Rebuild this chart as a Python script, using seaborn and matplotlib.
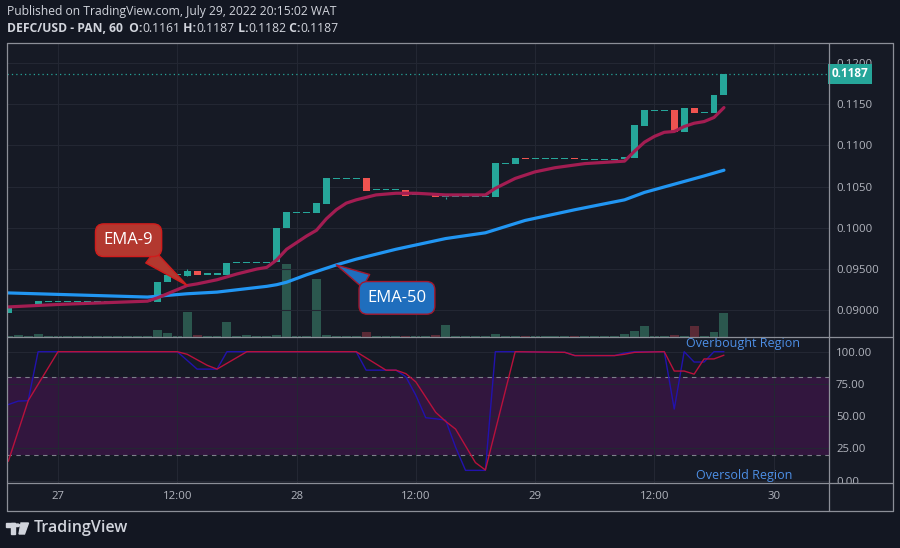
import numpy as np
import matplotlib
matplotlib.use("Agg")
import matplotlib.pyplot as plt
from matplotlib.lines import Line2D
from matplotlib.patches import Rectangle, Polygon, Circle
import seaborn as sns

# --- candles, one per hour (hour 0 = 27 Jul 00:00)
hours = list(range(-5, 68))
opens = [0.0897, 0.0905, 0.0905, 0.0905, 0.0911, 0.0911, 0.0911, 0.0911, 0.0911, 0.0911,
         0.0911, 0.0911, 0.0911, 0.0911, 0.0911, 0.0910, 0.0934, 0.0943, 0.0942, 0.0948,
         0.0944, 0.0944, 0.0943, 0.0958, 0.0958, 0.0958, 0.0958, 0.0958, 0.1000, 0.1019,
         0.1019, 0.1018, 0.1029, 0.1060, 0.1060, 0.1060, 0.1060, 0.1046, 0.1046, 0.1046,
         0.1046, 0.1040, 0.1040, 0.1040, 0.1037, 0.1038, 0.1038, 0.1038, 0.1038, 0.1038,
         0.1078, 0.1078, 0.1085, 0.1084, 0.1084, 0.1084, 0.1084, 0.1085, 0.1083, 0.1083,
         0.1083, 0.1083, 0.1083, 0.1085, 0.1124, 0.1143, 0.1143, 0.1143, 0.1116, 0.1145,
         0.1140, 0.1139, 0.1161]
closes = [0.0905, 0.0905, 0.0905, 0.0911, 0.0911, 0.0911, 0.0911, 0.0911, 0.0911, 0.0911,
          0.0911, 0.0911, 0.0911, 0.0911, 0.0911, 0.0934, 0.0943, 0.0943, 0.0948, 0.0943,
          0.0944, 0.0944, 0.0957, 0.0958, 0.0958, 0.0958, 0.0958, 0.1000, 0.1019, 0.1019,
          0.1019, 0.1030, 0.1061, 0.1060, 0.1060, 0.1060, 0.1045, 0.1046, 0.1046, 0.1046,
          0.1039, 0.1040, 0.1040, 0.1037, 0.1038, 0.1038, 0.1038, 0.1038, 0.1038, 0.1079,
          0.1078, 0.1085, 0.1084, 0.1084, 0.1084, 0.1084, 0.1084, 0.1083, 0.1083, 0.1083,
          0.1083, 0.1083, 0.1086, 0.1125, 0.1143, 0.1143, 0.1143, 0.1116, 0.1146, 0.1139,
          0.1140, 0.1161, 0.1187]
volume = [1, 2, 1, 3, 1, 1, 1, 1, 1, 1,
          1, 1, 1, 1, 1, 7, 4, 1, 25, 2,
          1, 1, 15, 1, 2, 1, 1, 2, 73, 1,
          1, 58, 2, 1, 1, 1, 5, 1, 1, 1,
          1, 1, 1, 2, 12, 1, 1, 1, 1, 3,
          1, 1, 1, 1, 1, 1, 1, 1, 1, 1,
          1, 1, 3, 6, 11, 1, 1, 2, 1, 11,
          1, 5, 24]
wick_hours = [13, 39]
wick_low = [0.0942, 0.1035]
wick_high = [0.0950, 0.1038]

# --- moving averages
ema9_hours = [-5, 0, 9, 10, 11, 12, 13, 14, 16, 18, 20, 21, 22, 23, 24, 25, 26, 27, 28, 29,
              30, 31, 32, 34, 36, 39, 43, 44, 45, 46, 48, 50, 53, 57, 58, 59, 60, 61, 62, 63,
              64, 65, 66, 67]
ema9_vals = [0.0904, 0.0907, 0.0911, 0.0915, 0.0920, 0.0925, 0.0930, 0.0932, 0.0937, 0.0944,
             0.0950, 0.0952, 0.0961, 0.0974, 0.0982, 0.0990, 0.0997, 0.1011, 0.1022, 0.1030,
             0.1034, 0.1037, 0.1040, 0.1042, 0.1042, 0.1040, 0.1040, 0.1048, 0.1054, 0.1060,
             0.1068, 0.1073, 0.1078, 0.1081, 0.1093, 0.1104, 0.1111, 0.1116, 0.1117, 0.1123,
             0.1127, 0.1129, 0.1134, 0.1146]
ema50_hours = [-5, 9, 10, 13, 16, 21, 22, 23, 25, 28, 30, 34, 39, 43, 47, 52, 57, 59, 62, 65, 67]
ema50_vals = [0.0921, 0.0916, 0.0917, 0.0920, 0.0922, 0.0929, 0.0931, 0.0934, 0.0943, 0.0955,
              0.0962, 0.0974, 0.0987, 0.0994, 0.1009, 0.1022, 0.1034, 0.1043, 0.1053, 0.1063,
              0.1070]

# --- stochastic %K / %D
k_hours = [-5, -4, -3, -2, 12, 14, 16, 17, 30, 31, 34, 35, 36, 37, 38, 39, 40, 41, 43, 44,
           46, 51, 52, 56, 57, 58, 61, 62, 63, 64, 65, 66, 67]
k_vals = [59, 61.7, 62, 100, 100, 86.5, 86.5, 100, 100, 85.7, 85.7, 80.5, 66.3, 48.8, 48, 47,
          26, 8, 8, 100, 100, 99.5, 97, 97, 99, 100, 100, 55.5, 100, 92, 92, 100, 100]
d_hours = [-5, -3, 0, 12, 13, 15, 16, 19, 30, 33, 34, 35, 36, 38, 39, 40, 42, 43, 46, 51,
           52, 56, 57, 58, 61, 62, 63, 64, 65, 66, 67]
d_vals = [15, 62, 100, 100, 98, 89.5, 86.5, 100, 100, 85.7, 85.7, 83, 76.6, 53, 46, 40, 14,
          8.3, 100, 99.5, 97, 97, 98, 99.5, 100, 85, 85, 82.6, 94.4, 94.4, 97.3]

time_ticks = [0, 12, 24, 36, 48, 60, 72]
time_labels = ["27", "12:00", "28", "12:00", "29", "12:00", "30"]
price_ticks = [0.0900, 0.0950, 0.1000, 0.1050, 0.1100, 0.1150, 0.1200]
price_labels = ["0.09000", "0.09500", "0.1000", "0.1050", "0.1100", "0.1150", "0.1200"]
osc_ticks = [0, 25, 50, 75, 100]
osc_labels = ["0.00", "25.00", "50.00", "75.00", "100.00"]
ohlc_names = ["O", "H", "L", "C"]
ohlc_values = ["0.1161", "0.1187", "0.1182", "0.1187"]

# --- colours
fig_bg = "#131722"
pane_bg = "#161a25"
grid_c = "#232733"
txt_c = "#d1d4dc"
axis_txt = "#b2b5be"
frame_c = "#8c8f98"
up_c = "#26a69a"
down_c = "#ef5350"
vol_up = "#2b574e"
vol_dn = "#5a2a36"
ema9_c = "#a31d52"
ema50_c = "#2196f3"
k_c = "#2212ad"
d_c = "#b8113c"
band_c = "#32163e"
region_c = "#4d8fe6"

sns.set_theme(style="darkgrid", rc={"axes.facecolor": pane_bg, "figure.facecolor": fig_bg,
                                    "grid.color": grid_c, "grid.linewidth": 0.8})
plt.rcParams['font.family'] = ['Open Sans', 'DejaVu Sans']

W, H = 900, 548
L, R, T, MID, OSB, BOT, RR = 7, 829, 43, 337, 483, 511, 893

def fp(x, y):
    return x / W, 1 - y / H

fig = plt.figure(figsize=(9, 5.48), dpi=100)
fig.add_artist(Rectangle(fp(L, BOT), (RR - L) / W, (BOT - T) / H, transform=fig.transFigure,
                         color=pane_bg, zorder=-5))

ax = fig.add_axes([L / W, 1 - MID / H, (R - L) / W, (MID - T) / H])
ax_osc = fig.add_axes([L / W, 1 - OSB / H, (R - L) / W, (OSB - MID) / H], sharex=ax)
ax_vol = ax.twinx()
ax_vol.set_zorder(ax.get_zorder() - 1)
ax.patch.set_visible(False)
ax_vol.patch.set_facecolor(pane_bg)

o = np.array(opens)
c = np.array(closes)
is_down = c < o
cols = np.where(is_down, down_c, up_c)
body_h = np.maximum(np.abs(c - o), 0.00013)
body_b = (o + c) / 2 - body_h / 2

# --- volume
ax_vol.bar(hours, volume, width=0.9, color=np.where(is_down, vol_dn, vol_up), linewidth=0)
ax_vol.set_ylim(0, max(volume) * 4.03)
ax_vol.set_yticks([])
ax_vol.grid(False)

# --- candles
ax.bar(hours, body_h, bottom=body_b, width=0.7, color=cols, linewidth=0, zorder=3)
wick_cols = [cols[hours.index(h)] for h in wick_hours]
ax.vlines(wick_hours, wick_low, wick_high, colors=wick_cols, lw=0.8, zorder=3)

sns.lineplot(x=ema50_hours, y=ema50_vals, ax=ax, color=ema50_c, linewidth=2.3, sort=False, zorder=4)
sns.lineplot(x=ema9_hours, y=ema9_vals, ax=ax, color=ema9_c, linewidth=2.3, sort=False, zorder=4)
ax.axhline(closes[-1], color=up_c, ls=(0, (1, 2.5)), lw=0.9, zorder=2)

ax.set_xlim(-5.13, 77.57)
ax.set_ylim(0.08675, 0.12244)
ax.set_yticks(price_ticks)
ax.set_yticklabels(price_labels)
ax.yaxis.tick_right()
ax.tick_params(axis='y', length=0, pad=5, labelsize=8.2, labelcolor=axis_txt)
ax.tick_params(axis='x', length=0, labelbottom=False)
ax.grid(True, color=grid_c, lw=0.8)
ax.set_xlabel("")
ax.set_ylabel("")

ax.text(1.0035, closes[-1], f"{closes[-1]:.4f}", transform=ax.get_yaxis_transform(),
        ha='left', va='center', color='white', fontsize=8.5, fontweight='bold', clip_on=False,
        bbox=dict(boxstyle="square,pad=0.3", fc=up_c, ec='none'), zorder=12)

# --- callouts
ax.annotate("EMA-9", xy=(13, ema9_vals[ema9_hours.index(13)]), xytext=(7.1, 0.0985),
            ha='center', va='center', color='white', fontsize=12, zorder=6,
            bbox=dict(boxstyle="round,pad=0.5,rounding_size=0.5", fc="#b3382f", ec="#d01c1c", lw=1),
            arrowprops=dict(arrowstyle="wedge,tail_width=0.9", fc="#b3382f", ec="#d01c1c", lw=1,
                            shrinkA=0, shrinkB=0))
ax.annotate("EMA-50", xy=(28, ema50_vals[ema50_hours.index(28)]), xytext=(34.1, 0.0915),
            ha='center', va='center', color='white', fontsize=12, zorder=6,
            bbox=dict(boxstyle="round,pad=0.5,rounding_size=0.5", fc="#1f6ebd", ec="#a3182e", lw=1),
            arrowprops=dict(arrowstyle="wedge,tail_width=0.9", fc="#1f6ebd", ec="#a3182e", lw=1,
                            shrinkA=0, shrinkB=0))

# --- stochastic pane
ax_osc.axhspan(20, 80, color=band_c, lw=0, zorder=0)
for lvl in (80, 20):
    ax_osc.axhline(lvl, color="#7d808a", ls=(0, (4, 4)), lw=0.8, zorder=1)
sns.lineplot(x=k_hours, y=k_vals, ax=ax_osc, color=k_c, linewidth=1.0, sort=False, zorder=3)
sns.lineplot(x=d_hours, y=d_vals, ax=ax_osc, color=d_c, linewidth=1.0, sort=False, zorder=4)
ax_osc.set_ylim(-1.8, 111.4)
ax_osc.set_yticks(osc_ticks)
ax_osc.set_yticklabels(osc_labels)
ax_osc.yaxis.tick_right()
ax_osc.set_xticks(time_ticks)
ax_osc.set_xticklabels(time_labels)
ax_osc.tick_params(axis='both', length=0, labelsize=8.2, labelcolor=axis_txt)
ax_osc.tick_params(axis='y', pad=5)
ax_osc.tick_params(axis='x', pad=6)
ax_osc.grid(True, color=grid_c, lw=0.8)
ax_osc.set_xlabel("")
ax_osc.set_ylabel("")
ax_osc.text(63.2, 106.7, "Overbought Region", color=region_c, fontsize=9, ha='left', va='center', zorder=5)
ax_osc.text(64.2, 4.4, "Oversold Region", color=region_c, fontsize=9, ha='left', va='center', zorder=5)

for a in (ax, ax_osc, ax_vol):
    for s in a.spines.values():
        s.set_visible(False)

# cover the clipped part of the 0.00 label
fig.add_artist(Rectangle(fp(R + 1, BOT - 1), (RR - R - 2) / W, (BOT - OSB - 2) / H,
                         transform=fig.transFigure, color=pane_bg, zorder=10))

# --- frame
segs = [((L, T), (RR, T)), ((L, T), (L, BOT)), ((RR, T), (RR, BOT)), ((L, BOT), (RR, BOT)),
        ((R, T), (R, BOT)), ((L, MID), (RR, MID)), ((L, OSB), (RR, OSB))]
for (x0, y0), (x1, y1) in segs:
    p0, p1 = fp(x0, y0), fp(x1, y1)
    fig.add_artist(Line2D([p0[0], p1[0]], [p0[1], p1[1]], transform=fig.transFigure,
                          color=frame_c, lw=0.9, zorder=20))

# --- header
fig.text(*fp(7, 12), "Published on TradingView.com, July 29, 2022 20:15:02 WAT",
         color=txt_c, fontsize=8.7, va='center', ha='left')
prev = fig.text(*fp(7, 29), "DEFC/USD - PAN, 60 ", color=txt_c, fontsize=8.7,
                fontweight='bold', va='center', ha='left')
for name, val in zip(ohlc_names, ohlc_values):
    prev = ax.annotate(" " + name + ":", xy=(1, 0), xycoords=prev, va='bottom', ha='left',
                       color=txt_c, fontsize=8.7, fontweight='bold', annotation_clip=False)
    prev = ax.annotate(val, xy=(1, 0), xycoords=prev, va='bottom', ha='left',
                       color=txt_c, fontsize=8.7, annotation_clip=False)

# --- logo
logo = [Rectangle(fp(6, 527), 9 / W, 4 / H), Rectangle(fp(10.5, 534), 4.5 / W, 11 / H),
        Polygon([fp(21, 523), fp(28.5, 523), fp(24.5, 534), fp(19, 534)])]
for p in logo:
    p.set_transform(fig.transFigure)
    p.set_color(txt_c)
    fig.add_artist(p)
fig.add_artist(Circle(fp(17.5, 525.3), 2.1 / W, transform=fig.transFigure, color=txt_c))
fig.text(*fp(34, 528), "TradingView", color=txt_c, fontsize=11.5, fontweight='semibold',
         va='center', ha='left')

fig.savefig("out.png", dpi=100, facecolor=fig_bg)
